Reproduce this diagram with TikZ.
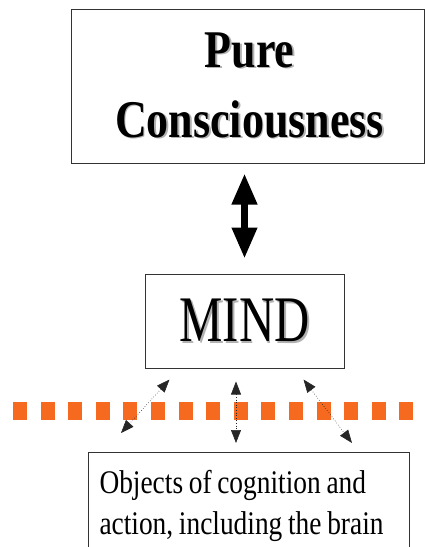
\documentclass[tikz,border=0pt]{standalone}
\usepackage{fontspec}
\setmainfont{Liberation Serif}
\newfontfamily\titlefont{Liberation Serif}[FakeStretch=0.83,WordSpace=0.83]
\newfontfamily\mindfont{Liberation Serif}[FakeStretch=0.75]
\newfontfamily\objfont{Liberation Serif}[FakeStretch=0.83,WordSpace=0.83]
\usetikzlibrary{positioning,arrows.meta}

\definecolor{barorange}{RGB}{246,106,32}
\newcommand{\shadowed}[1]{\leavevmode\rlap{\kern1.8pt\raisebox{-1.8pt}{\textcolor{black!30}{#1}}}#1}

\tikzset{
  box/.style={draw=black!80, line width=1pt, inner sep=0pt},
  bigarrow/.style={{Triangle[width=24pt,length=31pt]}-{Triangle[width=24pt,length=31pt]}, line width=7pt},
  smallarrow/.style={{Triangle[width=10pt,length=13pt]}-{Triangle[width=10pt,length=13pt]}, line width=0.6pt, dotted, black!85}
}

\begin{document}
\begin{tikzpicture}[x=1pt, y=-1pt]
  \useasboundingbox (0,0) rectangle (425,547);
  % boxes
  \node[box, minimum width=353pt, minimum height=154pt, align=center,
        font={\titlefont\bfseries\fontsize{53}{70}\selectfont}] (pure) at (247.5,86)
    {\hspace*{4pt}\shadowed{Pure}\\\hspace*{4pt}\shadowed{Consciousness}};
  \node[box, minimum width=199pt, minimum height=94pt,
        font={\mindfont\fontsize{65}{70}\selectfont}] (mind) at (244.5,321)
    {\shadowed{MIND}};
  \node[box, anchor=north west, text width=299pt, inner xsep=11pt, inner ysep=17.5pt, align=flush left,
        font={\objfont\fontsize{33}{41}\selectfont}] (obj) at (88,452)
    {Objects of cognition and\\action, including the brain};
  % orange boundary
  \foreach \i in {0,...,14}
    \fill[barorange] (13+27.6*\i,402) rectangle +(14,18);
  % connectors
  \draw[bigarrow, shorten <=10pt, shorten >=15pt] (pure.south -| mind.north) -- (mind.north);
  \coordinate (endl) at ([shift={(33,-19)}]obj.north west);
  \coordinate (endm) at ([shift={(148,-9)}]obj.north west);
  \coordinate (endr) at ([shift={(264,-9)}]obj.north west);
  \draw[smallarrow] ([shift={(25,11)}]mind.south west) -- (endl);
  \draw[smallarrow] ([shift={(-8.5,13)}]mind.south) -- (endm);
  \draw[smallarrow] ([shift={(-41,11)}]mind.south east) -- (endr);
\end{tikzpicture}
\end{document}
